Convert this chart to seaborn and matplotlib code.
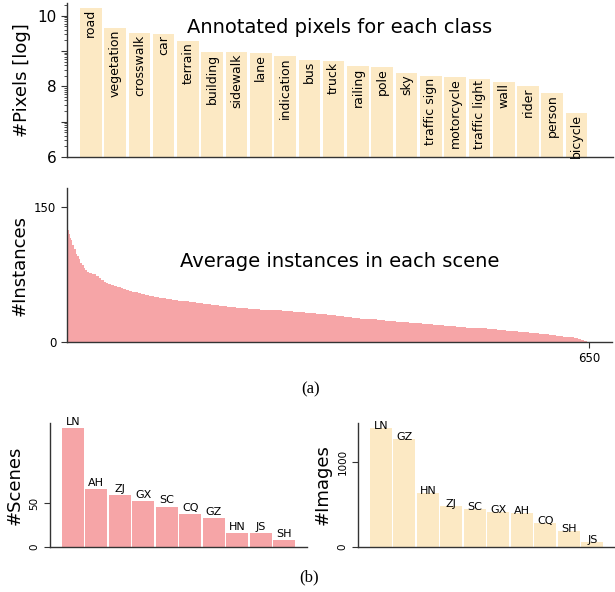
import numpy as np
import pandas as pd
import matplotlib
matplotlib.use("Agg")
import matplotlib.pyplot as plt
import seaborn as sns
from matplotlib.ticker import FixedLocator, FuncFormatter, LogLocator, NullFormatter

# --- data ---
classes = ["road", "vegetation", "crosswalk", "car", "terrain", "building", "sidewalk",
           "lane", "indication", "bus", "truck", "railing", "pole", "sky", "traffic sign",
           "motorcycle", "traffic light", "wall", "rider", "person", "bicycle"]
pixels_log = [10.22, 9.64, 9.51, 9.48, 9.28, 8.97, 8.97, 8.94, 8.86, 8.75, 8.72,
              8.57, 8.55, 8.38, 8.29, 8.26, 8.21, 8.12, 8.0, 7.81, 7.24]

# average instances per scene, sorted, as (level, number of scenes) steps
inst_levels = [163, 131, 124, 120, 116, 113, 108, 103, 98, 95, 92, 88, 85, 82, 80,
               78, 77, 76, 75, 73, 71, 69, 67, 65, 64, 63, 62, 61, 60, 59, 58, 57,
               56, 55, 54, 53, 52, 51, 50, 49, 48, 47, 46, 45, 44, 43, 42, 41, 40,
               39, 38, 37, 36, 35, 34, 33, 32, 31, 30, 29, 28, 27, 26, 25, 24, 23,
               22, 21, 20, 19, 18, 17, 16, 15, 14, 13, 12, 11, 10, 9, 8, 7, 6, 5,
               4, 3, 2, 1, 0.5]
inst_counts = [1, 1, 1, 1, 1, 2, 2, 2, 2, 2, 2, 2, 2, 2, 2,
               3, 3, 3, 3, 3, 3, 3, 3, 3, 3, 4, 4, 4, 3, 4, 4, 3,
               4, 4, 4, 5, 5, 6, 6, 8, 8, 7, 7, 7, 9, 9, 9, 10, 10,
               12, 14, 15, 14, 14, 14, 14, 14, 14, 11, 10, 10, 10, 11, 10, 10, 14,
               16, 16, 14, 14, 14, 13, 13, 13, 12, 12, 14, 14, 13, 12, 9, 8, 8, 6,
               5, 4, 4, 3, 3]

scene_regions = ["LN", "AH", "ZJ", "GX", "SC", "CQ", "GZ", "HN", "JS", "SH"]
scene_counts = [135, 66, 59, 52, 46, 37, 33, 16, 16, 8]

image_regions = ["LN", "GZ", "HN", "ZJ", "SC", "GX", "AH", "CQ", "SH", "JS"]
image_counts = [1400, 1270, 634, 480, 445, 410, 398, 280, 185, 55]

beige = "#fce9c4"
pink = "#f6a5a7"
spine_c = "#333333"

sns.set_style("ticks")
plt.rcParams["font.family"] = ["DejaVu Sans"]
plt.rcParams["axes.edgecolor"] = spine_c
plt.rcParams["axes.linewidth"] = 1.0
plt.rcParams["text.color"] = "black"
plt.rcParams["axes.labelcolor"] = "black"
plt.rcParams["xtick.labelcolor"] = "black"
plt.rcParams["ytick.labelcolor"] = "black"
plt.rcParams["xtick.color"] = spine_c
plt.rcParams["ytick.color"] = spine_c

W, H = 615, 592
fig = plt.figure(figsize=(W / 100, H / 100), dpi=100)


def box(l, t, r, b):
    return [l / W, 1 - b / H, (r - l) / W, (b - t) / H]


# ---------------- top: pixels per class ----------------
ax1 = fig.add_axes(box(66.7, 3, 613, 157))
pix_df = pd.DataFrame({"cls": classes, "pix": [10 ** v for v in pixels_log]})
sns.barplot(data=pix_df, x="cls", y="pix", color=beige, width=0.89, linewidth=0,
            saturation=1, errorbar=None, ax=ax1)
ax1.set_yscale("log")
ax1.set_ylim(1e6, 10 ** 10.36)
ax1.set_xlim(-0.99, 21.5)
ax1.yaxis.set_major_locator(FixedLocator([1e6, 1e7, 1e8, 1e9, 1e10]))
ax1.yaxis.set_major_formatter(FuncFormatter(
    lambda v, p: str(int(round(np.log10(v)))) if int(round(np.log10(v))) % 2 == 0 else ""))
ax1.yaxis.set_minor_locator(LogLocator(base=10, subs=np.arange(2, 10)))
ax1.yaxis.set_minor_formatter(NullFormatter())
ax1.tick_params(axis="y", which="major", labelsize=11, length=4)
ax1.tick_params(axis="y", which="minor", length=2)
ax1.set_xticks([])
ax1.set_xlabel("")
ax1.set_ylabel("#Pixels [log]", fontsize=13)
for i, (c, v) in enumerate(zip(classes, pixels_log)):
    ax1.text(i, 10 ** v * 0.92, c, rotation=90, ha="center", va="top", fontsize=9)
ax1.text(0.5, 0.84, "Annotated pixels for each class", transform=ax1.transAxes,
         ha="center", va="center", fontsize=14)
sns.despine(ax=ax1)

# ---------------- middle: instances per scene ----------------
ax2 = fig.add_axes(box(66.7, 188, 612, 342))
inst_vals = np.repeat(inst_levels, inst_counts)
scene_idx = np.arange(len(inst_vals)) + 0.5
sns.barplot(x=scene_idx, y=inst_vals, native_scale=True, width=1, color=pink,
            linewidth=0, saturation=1, errorbar=None, ax=ax2)
ax2.set_xlim(0, 678.6)
ax2.set_ylim(0, 171)
ax2.set_xticks([650])
ax2.set_xticklabels(["650"])
ax2.set_yticks([0, 150])
ax2.tick_params(labelsize=8.5, length=4)
ax2.set_xlabel("")
ax2.set_ylabel("#Instances", fontsize=13)
ax2.text(0.5, 0.52, "Average instances in each scene", transform=ax2.transAxes,
         ha="center", va="center", fontsize=14)
sns.despine(ax=ax2)

# ---------------- bottom left: scenes per region ----------------
ax3 = fig.add_axes(box(50, 423, 307, 547))
sc_df = pd.DataFrame({"reg": scene_regions, "n": scene_counts})
sns.barplot(data=sc_df, x="reg", y="n", color=pink, width=0.94, linewidth=0,
            saturation=1, errorbar=None, ax=ax3)
ax3.set_xlim(-0.97, 9.96)
ax3.set_ylim(0, 141)
ax3.set_yticks([0, 50])
ax3.set_yticklabels(["0", "50"], rotation=90, va="center")
ax3.set_xticks([])
ax3.tick_params(labelsize=7.5, length=4)
ax3.set_xlabel("")
ax3.set_ylabel("#Scenes", fontsize=13)
for i, (r, v) in enumerate(zip(scene_regions, scene_counts)):
    ax3.annotate(r, (i, v), xytext=(0, 1), textcoords="offset points",
                 ha="center", va="bottom", fontsize=8)
sns.despine(ax=ax3)

# ---------------- bottom right: images per region ----------------
ax4 = fig.add_axes(box(358, 423, 615, 547))
im_df = pd.DataFrame({"reg": image_regions, "n": image_counts})
sns.barplot(data=im_df, x="reg", y="n", color=beige, width=0.94, linewidth=0,
            saturation=1, errorbar=None, ax=ax4)
ax4.set_xlim(-0.97, 9.96)
ax4.set_ylim(0, 1464)
ax4.set_yticks([0, 1000])
ax4.set_yticklabels(["0", "1000"], rotation=90, va="center")
ax4.set_xticks([])
ax4.tick_params(labelsize=7.5, length=4)
ax4.set_xlabel("")
ax4.set_ylabel("#Images", fontsize=13)
for i, (r, v) in enumerate(zip(image_regions, image_counts)):
    ax4.annotate(r, (i, v), xytext=(0, -2), textcoords="offset points",
                 ha="center", va="bottom", fontsize=8)
sns.despine(ax=ax4)

# sub-figure captions
fig.text(311 / W, 1 - 389 / H, "(a)", ha="center", va="center",
         fontsize=12, family=["Liberation Serif"])
fig.text(309 / W, 1 - 577 / H, "(b)", ha="center", va="center",
         fontsize=12, family=["Liberation Serif"])

fig.savefig("out.png", dpi=100)
